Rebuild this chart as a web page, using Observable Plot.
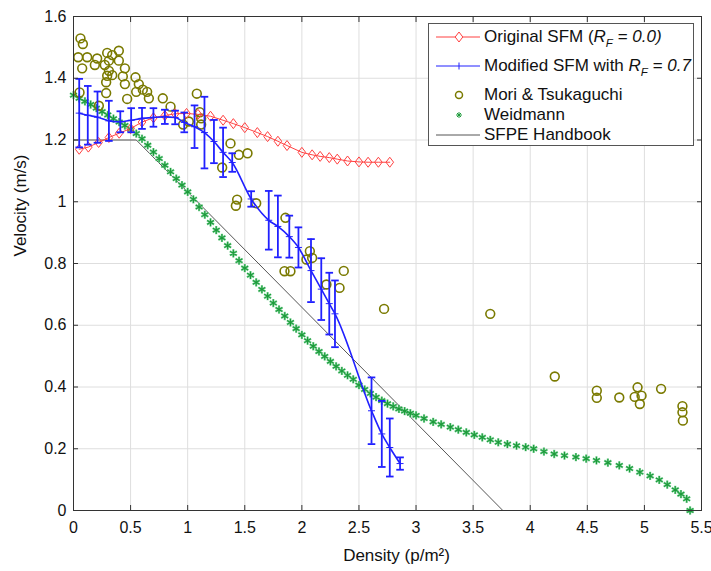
<!DOCTYPE html>
<html><head><meta charset="utf-8">
<script src="https://cdn.jsdelivr.net/npm/d3@7"></script>
<script src="https://cdn.jsdelivr.net/npm/@observablehq/plot@0.6"></script>
<style>
body{margin:0;background:#fff;font-family:"Liberation Sans",Arial,sans-serif;}
#wrap{position:relative;width:711px;height:571px;}
#legend{position:absolute;left:428px;top:23px;width:266px;height:123px;border:1px solid #555;background:#fff;font-size:17px;color:#111;box-sizing:border-box;}
.row{position:absolute;left:0;width:265px;height:20px;}
.row svg{position:absolute;left:7px;top:0;}
.row span{position:absolute;left:55px;top:0;line-height:20px;white-space:nowrap;}
sub{font-size:11.5px;vertical-align:-5px;line-height:0;}
</style>
</head><body>
<div id="wrap"><div id="chart"></div>
<div id="legend">
  <div class="row" style="top:3px"><svg width="44" height="20"><line x1="0" y1="10" x2="44" y2="10" stroke="#ff4040" stroke-width="1"/><path d="M23,5 L26.8,10 L23,15 L19.2,10 Z" fill="white" stroke="#ff4040"/></svg><span>Original SFM (<i>R<sub>F</sub> = 0.0)</i></span></div>
  <div class="row" style="top:32px"><svg width="44" height="20"><line x1="0" y1="10" x2="44" y2="10" stroke="#2020ff" stroke-width="1"/><line x1="23" y1="6.5" x2="23" y2="13.5" stroke="#2020ff"/></svg><span>Modified SFM with <i>R<sub>F</sub> = 0.7</i></span></div>
  <div class="row" style="top:61px"><svg width="44" height="20"><circle cx="23" cy="10" r="3.5" fill="none" stroke="#7a7a00" stroke-width="1.5"/></svg><span>Mori &amp; Tsukaguchi</span></div>
  <div class="row" style="top:81px"><svg width="44" height="20"><g stroke="#1c9a3a" stroke-width="1"><line x1="20" y1="10" x2="26" y2="10"/><line x1="23" y1="7" x2="23" y2="13"/><line x1="21" y1="8" x2="25" y2="12"/><line x1="25" y1="8" x2="21" y2="12"/></g></svg><span>Weidmann</span></div>
  <div class="row" style="top:101px"><svg width="44" height="20"><line x1="0" y1="10" x2="44" y2="10" stroke="#555" stroke-width="1"/></svg><span>SFPE Handbook</span></div>
</div>
</div>
<script>
// Axis ticks
const xTicks = [0, 0.5, 1, 1.5, 2, 2.5, 3, 3.5, 4, 4.5, 5, 5.5];
const yTicks = [0, 0.2, 0.4, 0.6, 0.8, 1, 1.2, 1.4, 1.6];

// Original SFM (R_F = 0.0)
const origX = [0.05,0.13,0.22,0.31,0.40,0.50,0.60,0.70,0.80,0.89,0.99,1.09,1.20,1.31,1.40,1.50,1.61,1.70,1.79,1.87,2.00,2.09,2.16,2.24,2.31,2.40,2.50,2.58,2.67,2.77];
const origY = [1.170,1.177,1.192,1.208,1.222,1.237,1.258,1.272,1.279,1.285,1.286,1.283,1.277,1.264,1.253,1.240,1.224,1.211,1.196,1.182,1.160,1.152,1.147,1.143,1.138,1.132,1.129,1.128,1.128,1.128];

// Modified SFM with R_F = 0.7 (mean and error half-width)
const modX = [0.05,0.125,0.21,0.31,0.41,0.505,0.60,0.70,0.80,0.89,0.97,1.06,1.147,1.23,1.31,1.39,1.556,1.71,1.79,1.89,1.97,2.08,2.17,2.24,2.29,2.61,2.70,2.77,2.86];
const modY = [1.287,1.280,1.274,1.262,1.259,1.264,1.270,1.273,1.275,1.273,1.257,1.243,1.224,1.195,1.160,1.127,1.009,0.940,0.920,0.887,0.852,0.777,0.717,0.670,0.637,0.323,0.248,0.204,0.152];
const modErr = [0.111,0.095,0.083,0.065,0.034,0.039,0.034,0.030,0.023,0.022,0.032,0.069,0.116,0.070,0.080,0.030,0.025,0.095,0.100,0.068,0.065,0.102,0.100,0.100,0.108,0.108,0.107,0.094,0.020];

// Mori & Tsukaguchi
const moriX = [0.061,0.082,0.041,0.12,0.076,0.207,0.187,0.295,0.274,0.31,0.339,0.397,0.397,0.31,0.295,0.339,0.286,0.45,0.432,0.45,0.286,0.543,0.572,0.607,0.549,0.645,0.66,0.47,0.782,0.222,0.053,0.85,0.96,1.01,1.08,1.106,1.118,1.118,1.375,1.448,1.524,1.302,1.433,1.422,1.60,1.856,2.07,2.04,2.09,1.848,1.90,2.367,2.215,2.33,2.72,3.65,4.215,4.583,4.583,4.78,4.94,4.915,4.975,4.96,5.146,5.333,5.333,5.337];
const moriY = [1.529,1.511,1.468,1.468,1.432,1.464,1.443,1.482,1.443,1.457,1.475,1.489,1.457,1.424,1.408,1.41,1.387,1.432,1.406,1.381,1.352,1.403,1.381,1.363,1.356,1.356,1.335,1.333,1.335,1.311,1.354,1.308,1.25,1.26,1.35,1.29,1.27,1.25,1.189,1.152,1.157,1.111,1.007,0.987,0.995,0.948,0.84,0.813,0.818,0.775,0.775,0.776,0.732,0.721,0.653,0.637,0.434,0.388,0.365,0.366,0.399,0.368,0.372,0.345,0.394,0.338,0.318,0.291];

// Weidmann
const weidX = [0,0.05,0.1,0.15,0.2,0.25,0.3,0.35,0.4,0.45,0.5,0.55,0.6,0.65,0.7,0.75,0.8,0.85,0.9,0.95,1.0,1.05,1.1,1.15,1.2,1.25,1.3,1.35,1.4,1.45,1.5,1.55,1.6,1.65,1.7,1.75,1.8,1.85,1.9,1.95,2.0,2.05,2.1,2.15,2.2,2.25,2.3,2.35,2.4,2.45,2.5,2.55,2.6,2.65,2.7,2.75,2.8,2.85,2.9,2.95,3.0,3.07,3.15,3.22,3.3,3.37,3.44,3.51,3.58,3.65,3.72,3.8,3.88,3.96,4.03,4.12,4.21,4.3,4.4,4.49,4.58,4.68,4.78,4.87,4.96,5.05,5.13,5.2,5.27,5.32,5.37,5.4];
const weidY = [1.345,1.335,1.325,1.315,1.303,1.292,1.281,1.269,1.258,1.247,1.235,1.221,1.204,1.183,1.161,1.140,1.118,1.097,1.075,1.054,1.032,1.008,0.983,0.958,0.933,0.908,0.883,0.858,0.833,0.809,0.785,0.762,0.739,0.716,0.694,0.672,0.651,0.630,0.609,0.589,0.569,0.550,0.532,0.515,0.499,0.483,0.467,0.452,0.438,0.425,0.406,0.392,0.379,0.367,0.356,0.346,0.337,0.329,0.322,0.315,0.308,0.298,0.287,0.279,0.270,0.262,0.253,0.245,0.237,0.229,0.221,0.215,0.210,0.205,0.200,0.191,0.183,0.178,0.173,0.168,0.162,0.155,0.146,0.136,0.124,0.112,0.099,0.084,0.067,0.053,0.038,0.0];

// SFPE Handbook
const sfpeX = [0, 0.55, 3.76];
const sfpeY = [1.2, 1.2, 0];

const zip = (xs, ys) => xs.map((x, i) => ({x, y: ys[i]}));
const orig = zip(origX, origY);
const mori = zip(moriX, moriY);
const weid = zip(weidX, weidY);
const sfpe = zip(sfpeX, sfpeY);
const mod = modX.map((x, i) => ({x, y: modY[i], lo: modY[i] - modErr[i], hi: modY[i] + modErr[i]}));

const hline = {draw(ctx, size) { const r = Math.sqrt(size / Math.PI); ctx.moveTo(-r, 0); ctx.lineTo(r, 0); }};
const tallDiamond = {draw(ctx, size) { const r = Math.sqrt(size / Math.PI); const w = r * 0.76; ctx.moveTo(0, -r); ctx.lineTo(w, 0); ctx.lineTo(0, r); ctx.lineTo(-w, 0); ctx.closePath(); }};

const RED = "#ff4040", BLUE = "#2020ff", OLIVE = "#7a7a00", GREEN = "#1c9a3a";

const chart = Plot.plot({
  width: 711, height: 571,
  marginTop: 16, marginBottom: 61, marginLeft: 73, marginRight: 10,
  style: {fontFamily: "Liberation Sans, Arial, sans-serif", fontSize: "16px", background: "white", color: "#111", overflow: "visible"},
  x: {domain: [0, 5.5]},
  y: {domain: [0, 1.6]},
  marks: [
    Plot.gridX(xTicks, {stroke: "#dedede", strokeOpacity: 1}),
    Plot.gridY(yTicks, {stroke: "#dedede", strokeOpacity: 1}),
    Plot.line(sfpe, {x: "x", y: "y", stroke: "#555", strokeWidth: 1}),
    Plot.dot(weid, {x: "x", y: "y", symbol: "asterisk", r: 3.9, stroke: "#7fd49a", strokeWidth: 2.2, fill: "none"}),
    Plot.dot(weid, {x: "x", y: "y", symbol: "asterisk", r: 3.6, stroke: GREEN, strokeWidth: 1.1, fill: "none"}),
    Plot.dot(mori, {x: "x", y: "y", r: 4.4, stroke: OLIVE, strokeWidth: 1.6, fill: "none"}),
    Plot.line(orig, {x: "x", y: "y", stroke: RED, strokeWidth: 1}),
    Plot.dot(orig, {x: "x", y: "y", symbol: tallDiamond, r: 5, stroke: RED, strokeWidth: 1, fill: "none"}),
    Plot.ruleX(mod, {x: "x", y1: "lo", y2: "hi", stroke: BLUE, strokeWidth: 1.8}),
    Plot.dot(mod, {x: "x", y: "lo", symbol: hline, r: 3.8, stroke: BLUE, strokeWidth: 1.8}),
    Plot.dot(mod, {x: "x", y: "hi", symbol: hline, r: 3.8, stroke: BLUE, strokeWidth: 1.8}),
    Plot.dot(mod, {x: "x", y: "y", symbol: hline, r: 3.5, stroke: BLUE, strokeWidth: 1}),
    Plot.line(mod, {x: "x", y: "y", stroke: BLUE, strokeWidth: 1.6, curve: "monotone-x"}),
    Plot.frame({stroke: "#333"}),
    Plot.axisX(xTicks, {anchor: "bottom", tickSize: -5, tickPadding: 16, tickFormat: d => String(d), label: null, stroke: "#333", fill: "#111"}),
    Plot.axisX(xTicks, {anchor: "top", tickSize: -5, tickFormat: () => "", label: null, stroke: "#333"}),
    Plot.axisY(yTicks, {anchor: "left", tickSize: -5, tickPadding: 12, tickFormat: d => String(d), label: null, stroke: "#333", fill: "#111"}),
    Plot.axisY(yTicks, {anchor: "right", tickSize: -5, tickFormat: () => "", label: null, stroke: "#333"}),
    Plot.text(["Density (p/m²)"], {text: d => d, frameAnchor: "bottom", dy: 45, dx: 9, fontSize: 17, lineAnchor: "middle", fill: "#111"}),
    Plot.text(["Velocity (m/s)"], {text: d => d, frameAnchor: "left", rotate: -90, dx: -53, dy: -7, fontSize: 17, lineAnchor: "middle", fill: "#111"})
  ]
});
document.getElementById("chart").appendChild(chart);
</script>
</body></html>
